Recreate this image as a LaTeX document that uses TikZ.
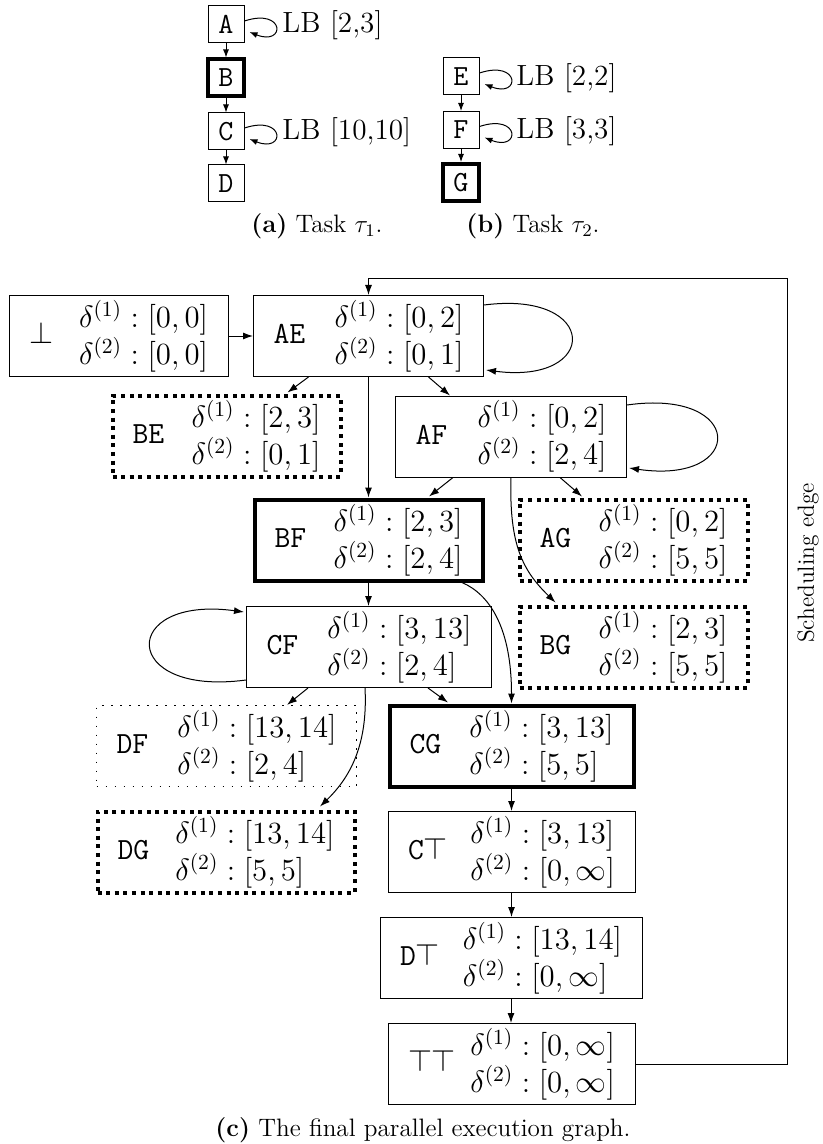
\RequirePackage{fix-cm}
\documentclass[tikz,border=0pt]{standalone}
\usetikzlibrary{arrows.meta,calc}
\newcommand{\stbody}[3]{\texttt{#1}\hfill$\vcenter{\baselineskip=18.5pt\lineskiplimit=-20pt\lineskip=0pt\hbox{$\delta^{(1)}:#2$}\hbox{$\delta^{(2)}:#3$}}$}
\tikzset{
  nodefont/.style={font=\fontsize{15.4}{18.5}\selectfont},
  bigfont/.style={font=\fontsize{14.6}{17.5}\selectfont},
  capfont/.style={font=\fontsize{12.6}{15}\selectfont},
  stbox/.style={draw, line width=0.5pt, rectangle, minimum height=40.5pt, inner xsep=10pt, inner ysep=0pt, nodefont},
  heavybox/.style={line width=2pt},
  dotbox/.style={line width=2pt, dash pattern=on 2pt off 2.3pt},
  thindot/.style={line width=0.6pt, dash pattern=on 0.6pt off 3.9pt},
  taskbox/.style={draw, line width=0.5pt, minimum width=18pt, minimum height=18.5pt, inner sep=0pt, font=\fontsize{14.6}{17}\selectfont\ttfamily},
  lblnode/.style={inner sep=0pt, anchor=west, bigfont},
  arr/.style={-{Latex[length=5pt,width=3.5pt]}, line width=0.5pt},
  tarr/.style={-{Latex[length=4pt,width=3pt]}, line width=0.5pt},
}
\begin{document}
\begin{tikzpicture}[x=0.5pt,y=-0.5pt]
\useasboundingbox (0,0) rectangle (823,1144);

% ---------- Task tau1 ----------
\node[taskbox] (A) at (226,24.5) {A};
\node[taskbox, heavybox] (B) at (226,78) {B};
\node[taskbox] (C) at (226,131.5) {C};
\node[taskbox] (D) at (226,183.5) {D};
\node[lblnode] (lA) at (282,25) {LB [2,3]};
\node[lblnode] (lC) at (282,132) {LB [10,10]};
\draw[tarr] (A) -- (B);
\draw[tarr] (B) -- (C);
\draw[tarr] (C) -- (D);
\draw[tarr] ($(A.east)+(0,-3.5)$) .. controls ($(A.east)+(41,-17)$) and ($(A.east)+(41,22)$) .. ($(A.east)+(5,7.5)$);
\draw[tarr] ($(C.east)+(0,-3.5)$) .. controls ($(C.east)+(41,-17)$) and ($(C.east)+(41,22)$) .. ($(C.east)+(5,7.5)$);
\node[capfont] (capa) at (317,226) {\textbf{(a)} Task $\tau_1$.};

% ---------- Task tau2 ----------
\node[taskbox] (E) at (461,76.5) {E};
\node[taskbox] (F) at (461,130) {F};
\node[taskbox, heavybox] (G) at (461,182.5) {G};
\node[lblnode] (lE) at (516,78) {LB [2,2]};
\node[lblnode] (lF) at (516,131) {LB [3,3]};
\draw[tarr] (E) -- (F);
\draw[tarr] (F) -- (G);
\draw[tarr] ($(E.east)+(0,-3.5)$) .. controls ($(E.east)+(41,-17)$) and ($(E.east)+(41,22)$) .. ($(E.east)+(5,7.5)$);
\draw[tarr] ($(F.east)+(0,-3.5)$) .. controls ($(F.east)+(41,-17)$) and ($(F.east)+(41,22)$) .. ($(F.east)+(5,7.5)$);
\node[capfont] (capb) at (533,226) {\textbf{(b)} Task $\tau_2$.};

% ---------- Parallel execution graph ----------
\node[stbox, text width=89.5pt] (BOT) at (118.5,336) {\stbody{$\bot$}{[0,0]}{[0,0]}};
\node[stbox, text width=95pt] (AE) at (368.5,336) {\stbody{AE}{[0,2]}{[0,1]}};
\node[stbox, dotbox, text width=94pt] (BE) at (226.5,436) {\stbody{BE}{[2,3]}{[0,1]}};
\node[stbox, text width=95.5pt] (AF) at (511,436.5) {\stbody{AF}{[0,2]}{[2,4]}};
\node[stbox, heavybox, text width=94pt] (BF) at (368.5,540) {\stbody{BF}{[2,3]}{[2,4]}};
\node[stbox, dotbox, text width=94pt] (AG) at (633.5,540) {\stbody{AG}{[0,2]}{[5,5]}};
\node[stbox, text width=102.5pt] (CF) at (369,647) {\stbody{CF}{[3,13]}{[2,4]}};
\node[stbox, dotbox, text width=94pt] (BG) at (633.5,647) {\stbody{BG}{[2,3]}{[5,5]}};
\node[stbox, thindot, text width=110pt] (DF) at (226.5,746) {\stbody{DF}{[13,14]}{[2,4]}};
\node[stbox, heavybox, text width=102pt] (CG) at (511.5,746) {\stbody{CG}{[3,13]}{[5,5]}};
\node[stbox, dotbox, text width=108.5pt] (DG) at (226,852) {\stbody{DG}{[13,14]}{[5,5]}};
\node[stbox, text width=103.5pt] (CT) at (511.5,852) {\stbody{C$\top$}{[3,13]}{[0,\infty]}};
\node[stbox, text width=111pt] (DT) at (511,958) {\stbody{D$\top$}{[13,14]}{[0,\infty]}};
\node[stbox, text width=103.5pt] (TT) at (511.5,1064) {\stbody{$\top\top$}{[0,\infty]}{[0,\infty]}};

% edges
\draw[arr] (BOT) -- (AE);
\coordinate (sc) at (787,279);
\draw[arr] (TT.east) -| (sc) -| (AE.north);
\node[font=\fontsize{11.7}{14}\selectfont, rotate=90] (schl) at (808,563) {Scheduling edge};

\draw[arr] ($(AE.east)+(0,-31)$) .. controls ($(AE.east)+(116,-46)$) and ($(AE.east)+(116,49)$) .. ($(AE.east)+(2,34)$);
\draw[arr] ($(AF.east)+(0,-31.5)$) .. controls ($(AF.east)+(119,-48.5)$) and ($(AF.east)+(119,48.5)$) .. ($(AF.east)+(2,31.5)$);
\draw[arr] ($(CF.west)+(0,33)$) .. controls ($(CF.west)+(-127,50)$) and ($(CF.west)+(-127,-52)$) .. ($(CF.west)+(-2,-35)$);

\draw[arr] ($(AE.south)+(-60,0)$) -- ($(BE.north)+(61,-1)$);
\draw[arr] (AE.south) -- (AE.south |- BF.north);
\draw[arr] ($(AE.south)+(60,0)$) -- ($(AF.north)+(-61,0)$);
\draw[arr] ($(AF.south)+(-58,0)$) -- ($(BF.north)+(60.5,-1)$);
\draw[arr] ($(AF.south)+(49,0)$) -- ($(AG.north)+(-51.5,-1)$);
\draw[arr] (AF.south) .. controls ($(AF.south)+(-2,67)$) and ($(BG.north)+(-111,-34)$) .. ($(BG.north)+(-78,-2)$);
\draw[arr] (BF.south) -- (BF.south |- CF.north);
\draw[arr] ($(BF.south)+(93.5,0)$) .. controls ($(BF.south)+(121.5,12)$) and ($(CG.north)+(0,-75)$) .. (CG.north);
\draw[arr] ($(CF.south)+(-61,0)$) -- ($(DF.north)+(60.5,0)$);
\draw[arr] ($(CF.south)+(59,0)$) -- ($(CG.north)+(-63.5,-1)$);
\draw[arr] ($(CF.south)+(-4,0)$) .. controls ($(CF.south)+(-1,57)$) and ($(DG.north)+(124,-32)$) .. ($(DG.north)+(94,-3)$);
\draw[arr] (CG.south) -- (CG.south |- CT.north);
\draw[arr] (CT.south) -- (CT.south |- DT.north);
\draw[arr] (DT.south) -- (DT.south |- TT.north);

\node[capfont] (capc) at (423,1130) {\textbf{(c)} The final parallel execution graph.};
\end{tikzpicture}
\end{document}
